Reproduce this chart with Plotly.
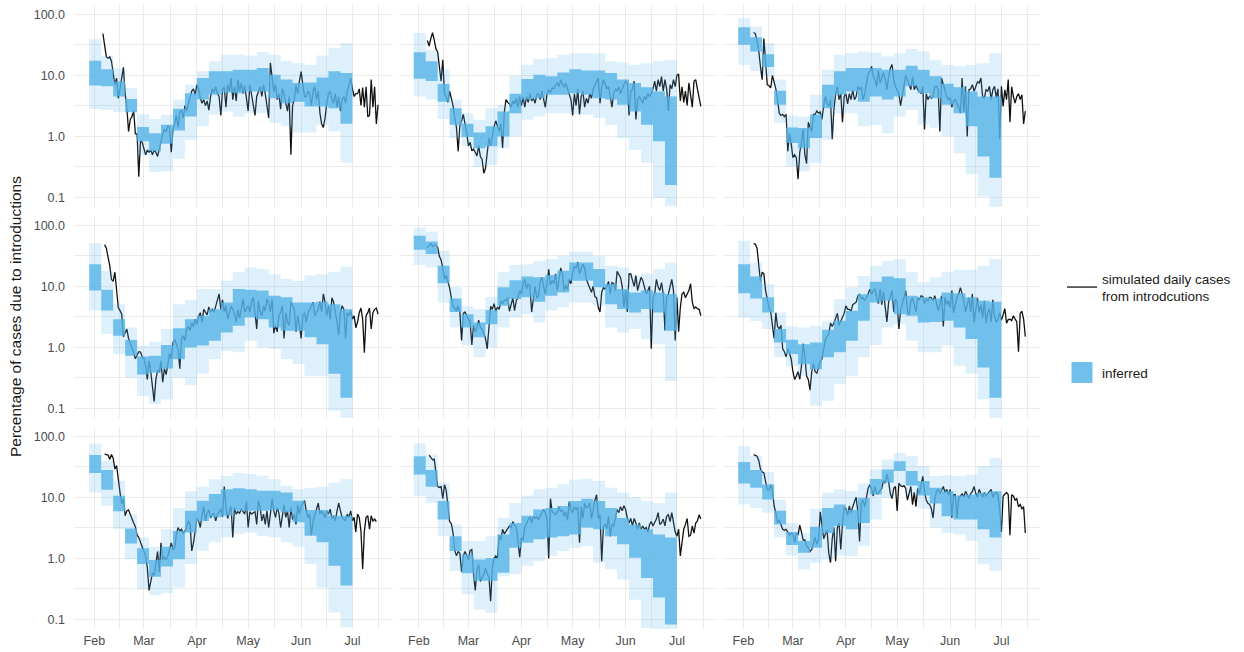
import pandas as pd
import plotly.graph_objects as go

# ---------------- data ----------------
BAND_START = "2020-01-29"      # weekly inferred bins start here
BAND_WEEKS = 22
X_RANGE = ["2020-01-20 02:00", "2020-07-23 14:00"]
MONTH_TICKS = ["2020-02-01", "2020-03-01", "2020-04-01", "2020-05-01", "2020-06-01", "2020-07-01"]
MONTH_LABELS = ["Feb", "Mar", "Apr", "May", "Jun", "Jul"]
MID_MONTH = ["2020-02-15 12:00", "2020-03-16 12:00", "2020-04-16", "2020-05-16 12:00", "2020-06-16", "2020-07-16 12:00"]
Y_TICKS = [0.1, 1, 10, 100]
Y_LABELS = ["0.1", "1.0", "10.0", "100.0"]
Y_MINOR = [0.316, 3.16, 31.6]

# panel 1 (top-left)
P1_HI95 = [39, 21, 13, 6.2, 2.3, 1.92, 2.26, 4.0, 7.0, 11.6, 16.9, 21.7, 21.7, 21, 24, 21.7, 16.9, 15.8, 14.9, 21, 28, 33.6]
P1_LO95 = [2.8, 2.7, 2.5, 2.3, 0.5, 0.26, 0.27, 0.43, 0.88, 1.46, 2.26, 2.56, 2.12, 2.4, 2.4, 1.65, 1.46, 1.16, 1.16, 1.55, 1.2, 0.37]
P1_HI50 = [17.3, 12.6, 7.9, 4.1, 1.42, 1.13, 1.55, 2.84, 5.1, 9.0, 11.6, 11.6, 12.3, 12.3, 13.1, 10.2, 8.5, 7.5, 7.6, 9.2, 11.6, 10.9]
P1_LO50 = [6.8, 6.6, 4.5, 2.5, 0.83, 0.57, 0.76, 1.25, 2.12, 4.0, 4.8, 5.25, 5.1, 5.45, 5.45, 4.2, 3.5, 3.7, 3.1, 3.1, 2.9, 1.61]
P1_LINE_START = "2020-02-06"
P1_LINE = [48, 30, 20, 19, 20, 17, 10, 7, 9, 4.2, 6, 9, 13.5, 5.0, 3.0, 1.2, 1.9, 2.1, 2.6, 1.1, 1.1, 0.22, 0.85, 0.8, 0.65, 0.5, 0.6, 0.55, 0.6, 0.5, 0.6, 0.55, 0.47, 0.65, 0.9, 1.1, 1.3, 1.2, 1.5, 1.4, 0.55, 1.3, 1.6, 2.2, 1.4, 2.5, 2.7, 2.0, 3.2, 2.6, 3.4, 4.5, 5.5, 6.0, 4.8, 7.0, 6.0, 4.2, 3.5, 4.0, 3.2, 3.8, 2.7, 4.5, 6.0, 5.2, 6.5, 5.0, 4.5, 2.2, 5.8, 6.5, 3.0, 7.0, 5.5, 9.0, 4.0, 6.5, 3.8, 8.5, 5.5, 7.5, 5.0, 6.8, 4.0, 2.6, 7.0, 5.0, 3.5, 2.2, 4.5, 5.5, 6.5, 4.5, 7.0, 5.0, 3.0, 2.0, 16, 8.5, 5.5, 7.0, 4.0, 5.0, 2.8, 6.0, 5.0, 3.5, 2.6, 4.5, 0.5, 3.2, 4.0, 7.0, 5.0, 8.0, 11.5, 7.0, 4.5, 4.5, 5.5, 5.0, 3.2, 5.5, 6.5, 4.0, 5.5, 2.4, 1.6, 1.4, 2.0, 3.5, 5.0, 5.5, 4.0, 3.5, 5.0, 3.0, 4.5, 2.6, 4.0, 4.5, 3.5, 5.5, 7.5, 9.0, 6.0, 4.5, 5.0, 5.0, 6.0, 3.2, 6.3, 3.0, 6.5, 2.1, 2.2, 8.5, 3.0, 6.5, 1.6, 3.3]

# panel 2 (top-middle)
P2_HI95 = [49, 26, 12.6, 4.0, 2.4, 1.87, 2.9, 3.3, 9.8, 14.9, 18.5, 19.1, 21.7, 23, 23, 23, 16.9, 16.2, 14.9, 15.8, 16.9, 18]
P2_LO95 = [4.5, 4.0, 1.92, 0.94, 0.69, 0.32, 0.34, 0.64, 1.0, 1.87, 2.12, 2.4, 2.4, 2.26, 2.26, 2.0, 1.55, 0.94, 0.6, 0.37, 0.098, 0.072]
P2_HI50 = [23.8, 16.9, 7.2, 2.9, 1.61, 1.16, 1.46, 2.56, 5.0, 8.7, 10.2, 9.6, 11.1, 12.6, 12, 12, 10.9, 8.5, 7.5, 6.4, 5.45, 4.5]
P2_LO50 = [8.8, 8.1, 3.7, 1.55, 0.98, 0.64, 0.69, 1.0, 2.4, 4.0, 4.2, 4.8, 4.8, 5.1, 4.8, 4.2, 4.0, 3.3, 2.56, 1.55, 0.83, 0.16]
P2_LINE_START = "2020-02-06"
P2_LINE = [37, 30, 40, 50, 38, 27, 24, 14, 8, 18, 5, 4.5, 3.6, 5.5, 4.2, 3.2, 2.0, 1.4, 0.57, 1.5, 1.8, 2.3, 1.6, 1.15, 0.7, 0.8, 0.58, 0.62, 0.55, 0.48, 0.7, 0.47, 0.42, 0.25, 0.3, 0.6, 0.95, 0.7, 1.1, 1.45, 1.8, 1.4, 1.2, 1.6, 0.65, 2.5, 4.0, 3.6, 3.4, 3.0, 3.8, 3.4, 4.2, 3.0, 4.5, 3.2, 4.4, 3.0, 4.5, 3.6, 5.0, 3.8, 4.2, 3.5, 4.8, 5.0, 4.0, 5.5, 4.2, 3.0, 5.0, 5.8, 5.2, 6.2, 6.0, 7.0, 7.5, 6.5, 8.5, 7.0, 6.5, 7.5, 6.0, 5.0, 4.0, 2.2, 5.0, 3.2, 6.0, 2.3, 4.5, 5.5, 3.0, 4.2, 3.5, 5.0, 4.2, 6.0, 7.0, 8.0, 9.0, 3.5, 6.5, 8.5, 7.0, 6.0, 6.5, 4.5, 3.0, 5.0, 6.0, 5.5, 6.5, 5.0, 6.2, 7.0, 8.0, 7.5, 2.2, 5.5, 6.0, 8.0, 1.9, 4.0, 4.5, 4.0, 3.5, 4.5, 4.0, 5.0, 4.5, 5.0, 6.0, 8.0, 5.5, 8.5, 6.5, 9.5, 5.5, 8.5, 6.0, 2.6, 7.0, 6.0, 8.5, 6.5, 10.0, 10.5, 3.8, 6.5, 3.6, 5.5, 3.2, 7.5, 4.5, 3.0, 8.0, 8.5, 6.0, 4.0, 3.1]

# panel 3 (top-right)
P3_HI95 = [86, 63, 33.7, 8.5, 2.2, 2.12, 4.8, 12.3, 21.7, 23, 24.6, 23.7, 20.3, 23, 26.8, 24.6, 18, 14.9, 14, 14.9, 15.8, 23]
P3_LO95 = [14.9, 11.6, 9.6, 1.65, 0.32, 0.27, 0.37, 0.88, 2.4, 2.4, 1.46, 1.55, 1.13, 2.12, 2.7, 1.55, 1.37, 1.0, 0.53, 0.24, 0.104, 0.068]
P3_HI50 = [61, 42, 22, 5.6, 1.4, 1.37, 2.26, 7.0, 11.6, 13.1, 13.1, 13.1, 12.3, 12.3, 14.3, 12.3, 9.6, 7.3, 6.4, 5.45, 4.5, 4.5]
P3_LO50 = [31.6, 24.6, 13.7, 3.3, 0.78, 0.64, 0.94, 2.9, 4.8, 5.45, 3.7, 4.5, 4.0, 4.5, 6.6, 5.1, 4.2, 3.3, 2.4, 1.46, 0.47, 0.21]
P3_LINE_START = "2020-02-07"
P3_LINE = [50, 48, 37, 25, 14, 8.5, 40, 15, 7, 6.8, 6.2, 10, 8.0, 6.0, 4.0, 2.4, 2.2, 2.3, 2.1, 2.3, 0.57, 1.1, 0.75, 0.45, 0.5, 0.45, 0.2, 0.55, 0.8, 1.3, 0.5, 0.36, 1.7, 1.4, 1.2, 2.3, 2.3, 2.6, 2.4, 2.5, 1.9, 3.2, 4.5, 3.5, 3.1, 4.0, 0.9, 2.8, 5.0, 6.5, 4.0, 5.0, 1.7, 4.5, 5.0, 3.4, 5.0, 4.0, 5.8, 4.0, 4.5, 6.5, 5.8, 6.5, 4.0, 5.0, 7.5, 10.5, 11.5, 14, 9.5, 8.5, 6.5, 12, 7.5, 9.5, 11, 8.5, 5.8, 9.5, 13, 15, 8.5, 6.5, 5.5, 5.0, 3.2, 4.8, 6.5, 10, 8.5, 7.0, 5.8, 9.5, 5.8, 7.0, 5.8, 5.5, 5.0, 6.5, 1.3, 5.0, 4.0, 4.6, 4.2, 4.5, 6.5, 6.6, 5.8, 1.2, 9.0, 7.0, 5.6, 4.5, 4.0, 4.3, 3.0, 3.8, 4.0, 3.5, 3.0, 2.4, 9.0, 2.5, 6.6, 1.0, 5.8, 6.0, 7.0, 5.5, 6.5, 7.8, 7.5, 9.0, 4.5, 4.2, 5.8, 5.5, 6.6, 4.0, 5.8, 6.6, 4.3, 6.0, 0.9, 6.6, 3.1, 5.8, 4.0, 8.5, 1.7, 6.5, 4.5, 3.5, 4.5, 5.0, 4.0, 4.8, 1.6, 2.6]

# panel 4 (middle-left)
P4_HI95 = [51, 18, 5.1, 2.12, 1.07, 1.24, 2.0, 5.1, 6.0, 9.0, 9.0, 12.3, 16.9, 20.3, 19.1, 15.8, 13.1, 12.3, 15, 15.8, 17.3, 21]
P4_LO95 = [4.0, 1.65, 0.78, 0.32, 0.16, 0.118, 0.14, 0.32, 0.24, 0.37, 0.64, 0.88, 0.83, 1.29, 1.0, 0.94, 0.64, 0.53, 0.34, 0.34, 0.092, 0.067]
P4_HI50 = [23, 8.8, 2.9, 1.32, 0.71, 0.73, 1.09, 2.05, 2.9, 3.3, 4.2, 5.45, 9.0, 8.8, 8.5, 7.0, 6.6, 5.45, 5.45, 5.6, 5.1, 4.2]
P4_LO50 = [8.5, 4.0, 1.55, 0.73, 0.36, 0.39, 0.45, 0.64, 1.0, 1.07, 1.29, 1.76, 2.26, 3.1, 2.9, 2.12, 1.87, 1.87, 1.46, 1.13, 0.37, 0.15]
P4_LINE_START = "2020-02-07"
P4_LINE = [48, 42, 30, 22, 13, 12, 17, 8.5, 4.5, 4.0, 3.5, 1.5, 1.8, 2.0, 1.4, 1.2, 1.0, 0.8, 0.65, 0.75, 0.85, 0.84, 0.7, 0.65, 0.5, 0.3, 0.6, 0.4, 0.24, 0.13, 0.3, 0.42, 0.4, 0.6, 0.27, 0.45, 0.36, 0.55, 0.8, 0.65, 1.2, 1.35, 1.1, 0.95, 0.45, 1.37, 1.55, 1.3, 2.0, 2.2, 1.9, 2.5, 2.2, 2.9, 2.4, 3.2, 3.7, 2.6, 4.2, 3.7, 3.4, 4.6, 3.8, 4.2, 3.8, 4.7, 6.0, 7.5, 4.2, 6.0, 3.8, 4.8, 2.9, 3.8, 4.7, 4.2, 3.5, 2.6, 4.2, 3.0, 4.5, 6.2, 3.8, 4.4, 4.8, 3.8, 5.6, 6.6, 3.8, 2.0, 5.8, 3.8, 3.3, 4.8, 3.9, 6.2, 5.4, 3.8, 6.2, 1.7, 2.3, 1.8, 3.3, 3.7, 4.8, 1.4, 3.7, 2.6, 2.3, 5.5, 4.8, 4.2, 1.8, 3.3, 2.3, 1.4, 3.3, 3.7, 2.6, 3.7, 4.2, 4.8, 5.5, 3.3, 3.7, 4.2, 5.6, 3.8, 7.5, 5.5, 3.3, 4.8, 2.9, 6.5, 5.5, 4.0, 2.6, 1.6, 3.7, 4.8, 4.2, 1.4, 3.7, 3.3, 4.0, 2.9, 3.3, 2.1, 2.6, 3.7, 4.4, 2.9, 0.82, 3.3, 3.7, 4.4, 2.0, 3.7, 4.2, 4.4, 3.5]

# panel 5 (centre)
P5_HI95 = [92, 79, 38, 9.6, 4.7, 4.24, 6.6, 16.9, 22.3, 23, 26, 28, 31.6, 36.6, 36.6, 31.6, 21.7, 20.3, 15, 16.2, 19.1, 24.6]
P5_LO95 = [22.3, 20.3, 5.45, 2.12, 1.07, 0.69, 1.0, 2.12, 3.1, 3.5, 2.56, 4.0, 4.5, 5.45, 5.45, 4.8, 2.12, 1.76, 2.0, 1.37, 1.13, 0.28]
P5_HI50 = [67, 54, 21.7, 6.3, 3.5, 2.56, 4.1, 9.6, 12.6, 14.5, 14, 15.3, 18, 24.6, 24.6, 19.1, 10.9, 9.0, 7.9, 8.5, 7.9, 7.5]
P5_LO50 = [39.7, 33.6, 11.2, 3.8, 2.12, 1.46, 2.4, 4.8, 6.2, 6.6, 5.6, 7.0, 7.9, 12.3, 12.3, 9.6, 5.1, 4.24, 3.74, 4.24, 3.74, 1.87]
P5_LINE_START = "2020-02-06"
P5_LINE = [43, 46, 50, 45, 48, 47, 44, 31, 27, 20, 13, 15, 12, 9.4, 6.5, 4.7, 4.3, 4.0, 4.8, 3.7, 1.3, 3.6, 3.8, 3.2, 2.9, 2.6, 1.1, 2.3, 1.8, 2.1, 2.8, 2.1, 2.0, 1.7, 1.4, 0.95, 2.4, 4.7, 4.2, 5.2, 3.9, 4.6, 4.2, 5.8, 5.2, 6.0, 5.8, 6.5, 3.9, 5.2, 6.5, 4.0, 5.8, 6.5, 8.5, 7.5, 11, 13, 9.0, 11, 10, 3.8, 7.0, 10, 6.4, 7.0, 12, 14, 10, 7.5, 11, 19, 10.5, 12.5, 11, 16, 8.5, 14, 20, 16, 8.5, 10.5, 8.8, 13, 11, 17, 21, 20, 25, 16, 20, 23, 20, 13, 11, 9.0, 8.0, 10, 6.8, 6.5, 4.5, 3.8, 8.0, 9.5, 9.0, 10, 12, 7.5, 11.5, 11, 8.5, 17.5, 16, 14, 10, 4.6, 8.5, 3.8, 16, 16, 12.5, 10, 15, 8.5, 11, 14, 12.5, 10, 7.5, 8.5, 10, 0.95, 6.5, 7.5, 13, 9.8, 8.5, 11.5, 7.5, 1.9, 6.6, 7.5, 10.5, 13, 8.5, 1.3, 6.6, 1.8, 4.5, 7.5, 8.0, 6.5, 7.5, 8.5, 11, 5.5, 4.3, 4.6, 4.3, 4.2, 3.3]

# panel 6 (middle-right)
P6_HI95 = [55.6, 24.6, 10.9, 3.74, 2.2, 2.12, 2.26, 2.73, 6.2, 9.6, 14.8, 21.7, 26, 28, 16.9, 11.6, 14, 17.3, 18.7, 18.7, 21.7, 28]
P6_LO95 = [3.1, 2.7, 2.0, 0.69, 0.49, 0.34, 0.111, 0.134, 0.25, 0.34, 0.69, 1.1, 2.12, 2.4, 1.29, 0.83, 0.83, 1.07, 0.5, 0.37, 0.14, 0.067]
P6_HI50 = [23, 14.5, 6.6, 2.0, 1.33, 1.13, 1.2, 1.95, 2.73, 3.98, 7.4, 11.9, 14.5, 13.5, 7.0, 6.6, 6.3, 7.9, 7.7, 6.6, 5.8, 5.6]
P6_LO50 = [7.7, 6.3, 3.74, 1.2, 0.78, 0.53, 0.44, 0.69, 0.83, 1.29, 2.73, 5.45, 5.8, 3.5, 3.3, 2.56, 2.6, 2.73, 2.12, 1.37, 0.47, 0.15]
P6_LINE_START = "2020-02-07"
P6_LINE = [50, 49, 42, 25, 12, 17, 16, 8.5, 6.0, 4.5, 3.8, 2.1, 1.4, 3.7, 2.2, 2.0, 2.3, 0.95, 0.85, 0.7, 0.95, 0.8, 0.65, 0.4, 0.3, 0.34, 0.4, 0.3, 0.5, 1.15, 0.7, 0.34, 0.3, 0.2, 0.4, 0.55, 0.4, 0.38, 0.5, 0.6, 0.65, 1.0, 1.35, 1.5, 1.65, 2.5, 2.2, 2.5, 2.9, 3.6, 2.3, 2.7, 3.0, 3.6, 4.8, 4.2, 4.2, 3.9, 5.0, 5.2, 5.5, 7.0, 7.4, 6.3, 6.5, 5.8, 6.6, 7.4, 9.0, 7.4, 8.5, 9.0, 6.6, 5.2, 9.0, 5.0, 8.2, 4.2, 2.6, 5.5, 6.6, 8.5, 3.8, 6.2, 5.5, 2.0, 4.0, 5.0, 6.6, 8.5, 4.0, 3.4, 5.8, 6.5, 5.0, 3.8, 6.5, 6.0, 7.0, 6.8, 5.2, 6.2, 5.8, 6.6, 6.5, 5.8, 7.0, 5.2, 4.0, 5.0, 7.0, 2.2, 6.6, 5.0, 5.8, 4.5, 8.5, 3.7, 5.0, 6.6, 7.5, 9.5, 7.5, 5.8, 3.8, 5.0, 6.5, 3.8, 7.5, 2.6, 4.5, 6.5, 3.7, 5.0, 3.0, 5.8, 2.5, 3.7, 4.3, 2.6, 6.0, 3.2, 2.6, 2.9, 3.7, 2.8, 3.4, 4.3, 2.5, 2.85, 2.9, 2.75, 3.3, 2.9, 2.6, 0.85, 3.6, 3.9, 2.9, 1.5]

# panel 7 (bottom-left)
P7_HI95 = [76, 39.6, 18.7, 5.3, 2.2, 1.55, 3.0, 6.7, 12.5, 14.9, 19.8, 22.5, 25, 24, 22.5, 19.8, 15.4, 13.6, 14.3, 14.9, 17.5, 19.8]
P7_LO95 = [12, 7.3, 3.0, 0.97, 0.31, 0.25, 0.27, 0.335, 0.81, 1.33, 1.83, 2.2, 2.5, 2.66, 2.35, 2.2, 1.83, 1.55, 0.81, 0.335, 0.13, 0.074]
P7_HI50 = [49, 28, 10.6, 3.1, 1.46, 0.94, 1.55, 2.8, 6.0, 8.8, 11.3, 13.6, 14.1, 13.6, 12.8, 12.8, 12.0, 8.8, 6.2, 6.2, 5.0, 5.0]
P7_LO50 = [25, 13.3, 5.9, 1.76, 0.81, 0.5, 0.74, 0.97, 2.66, 4.1, 4.7, 5.0, 6.0, 6.0, 6.0, 6.2, 5.7, 3.9, 2.35, 1.83, 0.76, 0.36]
P7_LINE_START = "2020-02-07"
P7_LINE = [51, 50, 49, 42, 50, 44, 29, 33, 18, 12, 7.8, 9.5, 5.0, 6.0, 6.2, 5.2, 4.2, 3.8, 3.3, 2.4, 2.2, 1.8, 1.6, 1.3, 1.1, 0.7, 0.3, 0.45, 0.58, 0.52, 0.8, 1.3, 0.6, 1.8, 0.95, 1.05, 0.95, 1.1, 1.4, 1.8, 1.4, 1.5, 2.5, 3.2, 2.8, 3.0, 2.6, 2.8, 3.3, 4.1, 3.6, 1.33, 1.8, 2.8, 4.5, 4.1, 3.2, 5.3, 7.0, 4.1, 5.6, 6.2, 4.6, 5.3, 5.5, 4.1, 5.3, 5.8, 6.5, 4.8, 15, 6.8, 4.5, 5.8, 7.0, 2.2, 6.8, 5.3, 5.8, 5.5, 6.5, 5.8, 5.3, 8.5, 3.2, 5.8, 5.3, 5.6, 5.8, 3.6, 8.8, 6.8, 4.1, 5.3, 3.6, 6.0, 3.2, 5.3, 9.5, 6.0, 4.7, 6.8, 5.5, 3.2, 5.3, 7.5, 4.7, 6.0, 3.2, 6.8, 4.3, 5.3, 3.6, 7.5, 5.3, 7.3, 8.0, 8.8, 6.0, 4.7, 5.3, 2.4, 4.1, 5.3, 6.8, 8.0, 5.3, 6.0, 5.3, 4.7, 6.0, 5.3, 6.4, 4.4, 5.0, 4.1, 6.0, 8.0, 6.0, 4.7, 4.4, 4.1, 5.3, 4.7, 6.0, 4.1, 4.7, 2.7, 5.3, 4.7, 2.8, 0.67, 2.8, 4.7, 5.0, 3.0, 5.0, 4.1, 4.4, 4.0]

# panel 8 (bottom-middle)
P8_HI95 = [76, 50, 17.3, 3.6, 1.92, 1.92, 2.3, 4.6, 8.1, 10.7, 13.5, 14.3, 16.3, 19.6, 20.2, 18.4, 14.3, 11.9, 10.0, 8.7, 8.1, 11.9]
P8_LO95 = [10.5, 8.1, 2.3, 0.62, 0.26, 0.146, 0.129, 0.51, 0.55, 0.75, 0.9, 1.09, 1.32, 1.5, 1.6, 0.85, 0.66, 0.45, 0.21, 0.073, 0.069, 0.069]
P8_HI50 = [47, 28, 8.7, 2.3, 1.16, 0.96, 1.02, 2.47, 3.8, 5.0, 6.3, 6.7, 7.2, 8.7, 9.5, 8.7, 6.7, 4.6, 3.6, 3.0, 2.47, 2.2]
P8_LO50 = [23.7, 14.9, 4.35, 1.32, 0.57, 0.43, 0.43, 0.58, 1.49, 1.8, 2.05, 2.2, 2.3, 2.47, 3.2, 3.0, 2.3, 1.7, 1.03, 0.48, 0.23, 0.083]
P8_LINE_START = "2020-02-07"
P8_LINE = [49, 45, 41, 42, 25, 15, 14.5, 15, 9.5, 16, 13, 7, 4.0, 3.7, 2.6, 1.35, 1.1, 1.3, 1.2, 0.6, 1.1, 1.3, 1.1, 0.95, 1.35, 1.4, 0.55, 0.3, 0.65, 0.8, 0.42, 0.47, 0.55, 0.7, 0.55, 0.5, 0.2, 0.7, 1.0, 1.1, 1.0, 2.4, 2.0, 3.0, 2.5, 2.8, 3.1, 3.4, 3.2, 4.0, 3.5, 3.3, 1.9, 1.05, 2.2, 2.0, 3.3, 3.7, 4.2, 4.8, 3.8, 4.9, 4.5, 4.8, 4.3, 4.9, 5.6, 6.3, 5.6, 4.4, 1.0, 9.5, 5.8, 5.6, 5.2, 5.6, 7.0, 5.8, 6.3, 4.9, 5.8, 4.2, 8.5, 6.3, 5.6, 7.0, 6.3, 6.8, 1.8, 7.0, 4.5, 8.0, 6.8, 7.0, 8.0, 4.5, 6.0, 9.0, 11, 4.5, 5.2, 0.9, 3.4, 3.6, 3.1, 4.9, 2.3, 3.6, 3.4, 4.9, 6.3, 5.6, 7.0, 6.0, 7.3, 6.3, 4.5, 3.8, 4.5, 3.4, 4.5, 3.8, 3.0, 3.8, 3.0, 3.4, 3.0, 3.2, 2.7, 3.6, 4.0, 3.4, 4.0, 4.4, 5.6, 3.6, 3.8, 4.4, 3.4, 4.9, 5.2, 4.0, 5.6, 3.8, 2.7, 2.3, 3.0, 1.1, 2.0, 3.0, 3.6, 4.5, 2.3, 2.4, 3.4, 2.6, 3.8, 4.1, 5.2, 4.4]

# panel 9 (bottom-right)
P9_HI95 = [69, 48, 26, 9.2, 3.8, 2.6, 6.5, 11.9, 13.5, 12.6, 16.8, 28.5, 41.5, 53, 47, 32.5, 22.2, 22.9, 22.2, 23.7, 32.5, 44.5]
P9_LO95 = [7.6, 6.7, 5.6, 2.2, 1.12, 0.66, 0.85, 0.96, 1.12, 1.09, 1.59, 4.35, 9.8, 15.3, 11.1, 6.5, 3.2, 2.6, 2.47, 1.92, 0.8, 0.62]
P9_HI50 = [37.7, 28, 16.2, 6.0, 2.7, 1.92, 3.3, 6.7, 7.6, 6.2, 9.8, 20, 28.5, 39, 26.8, 18.4, 14.3, 12.6, 10.7, 11.1, 11.9, 12.6]
P9_LO50 = [16.8, 14.3, 9.2, 3.6, 1.66, 1.24, 1.49, 2.6, 3.4, 3.0, 3.8, 11.1, 17.3, 26.8, 15.6, 10.7, 7.9, 4.9, 4.35, 4.35, 3.0, 2.2]
P9_LINE_START = "2020-02-07"
P9_LINE = [50, 49, 47, 40, 29, 26, 25, 18, 13.5, 13, 16, 13, 7.2, 5.6, 3.8, 4.3, 3.5, 3.0, 2.9, 3.0, 2.7, 2.4, 2.6, 2.5, 1.8, 2.6, 2.4, 3.5, 2.7, 2.0, 2.0, 1.6, 1.5, 1.3, 1.4, 1.8, 2.2, 1.7, 2.0, 5.8, 3.5, 2.1, 2.5, 2.9, 1.2, 0.85, 2.1, 3.2, 0.9, 3.2, 3.8, 1.4, 3.7, 6.8, 6.5, 5.0, 7.2, 5.5, 7.0, 8.8, 10, 5.8, 1.9, 8.0, 9.0, 7.0, 9.5, 14, 16, 14, 10.5, 15, 11.5, 11.5, 13, 14, 19, 17, 24, 18, 11.5, 9.5, 14, 15, 6.0, 17, 15.5, 15, 15.5, 14, 9.0, 12.5, 15, 7.6, 12, 7.0, 14, 11.5, 15, 22, 12.5, 9.0, 8.0, 7.6, 6.5, 4.6, 9.0, 12.5, 13.5, 11.5, 13, 15, 12, 13.5, 11, 13.5, 4.6, 11, 11, 4.6, 9.5, 10.5, 11.5, 10, 12.5, 11, 9.5, 11.5, 12.5, 15, 11.5, 10, 13.5, 11.5, 10, 12, 10.5, 11.5, 12.5, 13.5, 10, 11.5, 12, 10.5, 6.3, 2.7, 10.5, 11.5, 12, 11, 2.4, 11, 10.5, 9.0, 9.5, 7.0, 7.6, 6.5, 7.0, 2.6]

PANELS = [
    (P1_LO95, P1_HI95, P1_LO50, P1_HI50, P1_LINE_START, P1_LINE),
    (P2_LO95, P2_HI95, P2_LO50, P2_HI50, P2_LINE_START, P2_LINE),
    (P3_LO95, P3_HI95, P3_LO50, P3_HI50, P3_LINE_START, P3_LINE),
    (P4_LO95, P4_HI95, P4_LO50, P4_HI50, P4_LINE_START, P4_LINE),
    (P5_LO95, P5_HI95, P5_LO50, P5_HI50, P5_LINE_START, P5_LINE),
    (P6_LO95, P6_HI95, P6_LO50, P6_HI50, P6_LINE_START, P6_LINE),
    (P7_LO95, P7_HI95, P7_LO50, P7_HI50, P7_LINE_START, P7_LINE),
    (P8_LO95, P8_HI95, P8_LO50, P8_HI50, P8_LINE_START, P8_LINE),
    (P9_LO95, P9_HI95, P9_LO50, P9_HI50, P9_LINE_START, P9_LINE),
]

# ---------------- style / layout ----------------
W, H = 1244, 652
FONT = "Liberation Sans, Arial, Helvetica, sans-serif"
LIGHT = "rgba(86,180,233,0.2)"
DARK = "rgba(86,180,233,0.8)"
KEY_BLUE = "#71c0ec"
LINE_COLOR = "#111111"
GRID = "#ebebeb"
TICK_COLOR = "#4d4d4d"

COL_LEFT = [74, 398.5, 723]     # pixel positions of panel columns
PANEL_W = 317
ROW_TOP = [5, 216, 427]
PANEL_H = 201.7

edges = pd.date_range(BAND_START, periods=BAND_WEEKS + 1, freq="7D")


def step(vals):
    return list(vals) + [vals[-1]]


fig = go.Figure()
layout = {}
for i, (lo95, hi95, lo50, hi50, start, line) in enumerate(PANELS):
    n = i + 1
    r, c = divmod(i, 3)
    xa = "x" if n == 1 else f"x{n}"
    ya = "y" if n == 1 else f"y{n}"
    days = pd.date_range(start, periods=len(line), freq="D")

    fig.add_trace(go.Scatter(
        x=days, y=line, mode="lines", xaxis=xa, yaxis=ya,
        line=dict(color=LINE_COLOR, width=1.3),
        name="simulated daily cases<br>from introdcutions",
        legendgroup="sim", showlegend=(i == 0), hoverinfo="skip"))
    for lo, hi, col in ((lo95, hi95, LIGHT), (lo50, hi50, DARK)):
        fig.add_trace(go.Scatter(
            x=edges, y=step(lo), mode="lines", xaxis=xa, yaxis=ya,
            line=dict(width=0, shape="hv"), showlegend=False, hoverinfo="skip"))
        fig.add_trace(go.Scatter(
            x=edges, y=step(hi), mode="lines", xaxis=xa, yaxis=ya,
            line=dict(width=0, shape="hv"), fill="tonexty", fillcolor=col,
            showlegend=False, hoverinfo="skip"))

    x0 = COL_LEFT[c] / W
    x1 = (COL_LEFT[c] + PANEL_W) / W
    y1 = 1 - ROW_TOP[r] / H
    y0 = 1 - (ROW_TOP[r] + PANEL_H) / H
    kx = "xaxis" if n == 1 else f"xaxis{n}"
    ky = "yaxis" if n == 1 else f"yaxis{n}"
    layout[kx] = dict(
        domain=[x0, x1], anchor=ya, type="date", range=X_RANGE,
        tickmode="array", tickvals=MONTH_TICKS, ticktext=MONTH_LABELS,
        showticklabels=(r == 2), ticks="", showline=False, zeroline=False,
        showgrid=True, gridcolor=GRID, gridwidth=1.3,
        minor=dict(tickvals=MID_MONTH, showgrid=True, gridcolor=GRID, gridwidth=0.7, ticks=""),
        tickfont=dict(family=FONT, size=12.5, color=TICK_COLOR),
        ticklabelstandoff=3, fixedrange=True)
    layout[ky] = dict(
        domain=[y0, y1], anchor=xa, type="log", range=[-1.15, 2.15],
        tickmode="array", tickvals=Y_TICKS, ticktext=Y_LABELS,
        showticklabels=(c == 0), ticks="", showline=False, zeroline=False,
        showgrid=True, gridcolor=GRID, gridwidth=1.3,
        minor=dict(tickvals=Y_MINOR, showgrid=True, gridcolor=GRID, gridwidth=0.7, ticks=""),
        tickfont=dict(family=FONT, size=12.5, color=TICK_COLOR),
        ticklabelstandoff=8, fixedrange=True)

# legend key for the inferred bands
fig.add_trace(go.Scatter(
    x=[None], y=[None], mode="markers", name="inferred", legendgroup="inf",
    marker=dict(symbol="square", size=16, color=KEY_BLUE, line=dict(color=KEY_BLUE, width=5)),
    hoverinfo="skip"))

fig.update_layout(
    width=W, height=H, autosize=False,
    margin=dict(l=0, r=0, t=0, b=0),
    paper_bgcolor="white", plot_bgcolor="white",
    font=dict(family=FONT, color="#1a1a1a"),
    showlegend=True,
    legend=dict(x=1062 / W, y=1 - 263 / H, xanchor="left", yanchor="top",
                traceorder="grouped", tracegroupgap=56, itemwidth=30,
                font=dict(family=FONT, size=13.5, color="#1a1a1a"),
                bgcolor="rgba(0,0,0,0)", itemsizing="trace"),
    annotations=[dict(text="Percentage of cases due to introductions", x=15 / W, y=1 - 317 / H,
                      xref="paper", yref="paper", showarrow=False, textangle=-90,
                      font=dict(family=FONT, size=15.5, color="#1a1a1a"),
                      xanchor="center", yanchor="middle")],
    **layout)

fig.write_html("out.html")
